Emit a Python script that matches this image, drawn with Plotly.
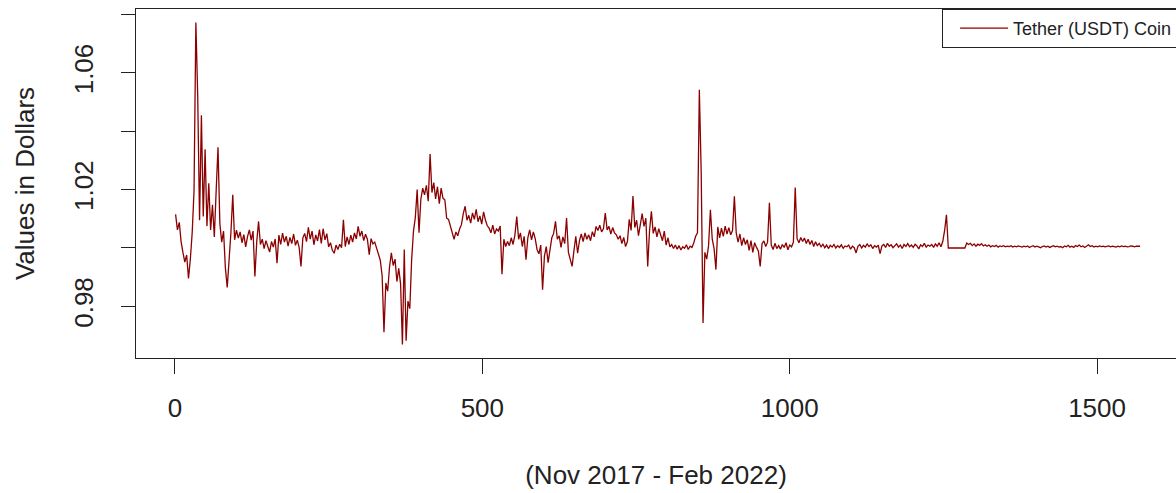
import plotly.graph_objects as go

# Day index (Nov 2017 - Feb 2022), sampled every 3rd day
day_index = list(range(1, 1571, 3))

# USDT closing price in dollars
usdt_price = [
    1.0115, 1.0062, 1.0088, 1.0021, 0.9984, 0.9952, 0.9976, 0.9896, 0.9962, 1.0052,
    1.0195, 1.0773, 1.0520, 1.0095, 1.0455, 1.0108, 1.0338, 1.0075, 1.0222, 1.0062,
    1.0148, 1.0038, 1.0196, 1.0345, 1.0085, 1.0020, 1.0058, 0.9932, 0.9865, 0.9948,
    1.0052, 1.0182, 1.0028, 1.0061, 1.0034, 1.0055, 1.0018, 1.0046, 1.0004, 1.0039,
    1.0062, 1.0027, 1.0058, 0.9902, 1.0021, 1.0091, 1.0012, 1.0030, 0.9998, 1.0025,
    1.0008, 0.9986, 1.0022, 1.0003, 1.0031, 0.9948, 1.0044, 1.0012, 1.0051, 1.0020,
    1.0040, 1.0006, 1.0036, 1.0015, 1.0048, 1.0009, 1.0027, 1.0002, 0.9937, 1.0035,
    1.0050, 1.0022, 1.0071, 1.0030, 1.0058, 1.0011, 1.0045, 1.0024, 1.0063, 1.0016,
    1.0066, 1.0028, 1.0049, 1.0004, 1.0018, 0.9992, 0.9982, 1.0010, 0.9995, 1.0013,
    1.0001, 1.0097, 1.0005, 1.0038, 1.0012, 1.0044, 1.0020, 1.0052, 1.0031, 1.0074,
    1.0040, 1.0058, 1.0025, 1.0047, 1.0030, 0.9977, 1.0032, 1.0014, 1.0020, 0.9996,
    0.9975, 0.9958, 0.9905, 0.9711, 0.9880, 0.9852, 0.9935, 0.9983, 0.9940, 0.9962,
    0.9885, 0.9930, 0.9878, 0.9669, 0.9995, 0.9682, 0.9818, 0.9792, 0.9960, 1.0058,
    1.0105, 1.0200, 1.0052, 1.0168, 1.0205, 1.0182, 1.0215, 1.0160, 1.0322, 1.0190,
    1.0224, 1.0168, 1.0210, 1.0152, 1.0205, 1.0170, 1.0165, 1.0102, 1.0098, 1.0074,
    1.0045, 1.0030, 1.0055, 1.0042, 1.0065, 1.0080, 1.0118, 1.0143, 1.0095, 1.0112,
    1.0085, 1.0120, 1.0098, 1.0132, 1.0090, 1.0110, 1.0082, 1.0124, 1.0096, 1.0076,
    1.0068, 1.0052, 1.0078, 1.0048, 1.0065, 1.0058, 1.0075, 0.9910, 1.0030, 1.0005,
    1.0022, 1.0008, 1.0035, 1.0012, 1.0045, 1.0108, 1.0030, 1.0052, 1.0005, 1.0040,
    0.9960, 1.0035, 1.0062, 1.0028, 1.0055, 1.0032, 0.9995, 0.9980, 1.0010, 0.9857,
    0.9972, 1.0005, 0.9950, 0.9988, 1.0035, 1.0050, 1.0091, 1.0030, 1.0042, 1.0002,
    1.0038, 1.0015, 1.0103, 0.9985, 0.9965, 0.9937, 0.9990, 1.0040, 0.9982, 1.0025,
    1.0048, 1.0022, 1.0052, 1.0030, 1.0045, 1.0025, 1.0056, 1.0038, 1.0074, 1.0060,
    1.0078, 1.0055, 1.0066, 1.0120, 1.0062, 1.0074, 1.0048, 1.0070, 1.0052, 1.0045,
    1.0030, 1.0042, 1.0015, 1.0036, 1.0005, 1.0022, 1.0098, 1.0060, 1.0178, 1.0070,
    1.0095, 1.0042, 1.0080, 1.0118, 1.0074, 1.0102, 0.9937, 1.0060, 1.0126, 1.0050,
    1.0072, 1.0038, 1.0066, 1.0048, 1.0025, 1.0058, 1.0010, 1.0035, 1.0004, 1.0012,
    0.9998, 1.0010, 0.9996, 1.0008, 0.9993, 1.0004, 0.9999, 1.0011, 0.9995, 1.0006,
    1.0002, 1.0018, 1.0040, 1.0052, 1.0542, 1.0263, 0.9743, 0.9985, 0.9962, 1.0008,
    1.0131, 1.0030, 0.9998, 0.9926, 1.0072, 1.0035, 1.0068, 1.0040, 1.0075, 1.0048,
    1.0070, 1.0045, 1.0060, 1.0177, 1.0052, 1.0020, 1.0048, 1.0008, 1.0035, 1.0012,
    1.0028, 0.9992, 1.0025, 0.9985, 1.0018, 1.0002, 0.9990, 0.9937, 1.0015, 1.0024,
    1.0005, 1.0020, 1.0155, 1.0010, 0.9995, 1.0016, 0.9998, 1.0008, 0.9996, 1.0012,
    1.0002, 1.0018, 0.9994, 1.0010, 1.0004, 1.0020, 1.0207, 1.0032, 1.0018, 1.0036,
    1.0022, 1.0034, 1.0015, 1.0030, 1.0012, 1.0026, 1.0005, 1.0021, 1.0008, 1.0016,
    1.0004, 1.0013, 1.0001, 1.0010, 0.9998, 1.0009, 1.0003, 1.0012, 1.0000, 1.0008,
    1.0002, 1.0011, 0.9999, 1.0007, 1.0004, 1.0010, 0.9996, 1.0006, 1.0001, 0.9983,
    1.0006, 1.0012, 1.0000, 1.0009, 1.0003, 1.0014, 1.0005, 1.0011, 0.9998, 1.0008,
    1.0003, 1.0010, 0.9981, 1.0007, 1.0012, 1.0002, 1.0016, 1.0006, 1.0011, 1.0001,
    1.0009, 1.0014, 1.0003, 1.0010, 0.9998, 1.0012, 1.0005, 1.0015, 1.0004, 1.0010,
    1.0002, 1.0013, 1.0007, 0.9997, 1.0011, 1.0005, 1.0016, 1.0003, 1.0010, 1.0006,
    1.0012, 1.0002, 1.0014, 1.0006, 1.0018, 1.0004, 1.0022, 1.0060, 1.0114, 1.0000,
    1.0000, 1.0000, 1.0000, 1.0000, 1.0000, 1.0000, 1.0000, 1.0000, 1.0000, 1.0017,
    1.0012, 1.0016, 1.0008, 1.0014, 1.0006, 1.0013, 1.0009, 1.0015, 1.0007, 1.0011,
    1.0006, 1.0010, 1.0004, 1.0008, 1.0005, 1.0009, 1.0003, 1.0007, 1.0005, 1.0008,
    1.0004, 1.0006, 1.0005, 1.0008, 1.0003, 1.0006, 1.0004, 1.0007, 1.0005, 1.0003,
    1.0006, 1.0004, 1.0007, 1.0002, 1.0005, 1.0008, 1.0003, 1.0006, 1.0004, 1.0001,
    1.0005, 1.0007, 1.0003, 1.0006, 1.0002, 1.0005, 1.0008, 1.0004, 1.0006, 1.0003,
    1.0005, 1.0001, 1.0007, 1.0004, 1.0009, 1.0003, 1.0006, 1.0002, 1.0008, 1.0005,
    1.0010, 1.0004, 1.0007, 1.0002, 1.0006, 1.0011, 1.0005, 1.0008, 1.0003, 1.0006,
    1.0004, 1.0007, 1.0005, 1.0006, 1.0004, 1.0005, 1.0007, 1.0004, 1.0006, 1.0005,
    1.0003, 1.0006, 1.0004, 1.0007, 1.0005, 1.0006, 1.0004, 1.0005, 1.0007, 1.0006,
    1.0004, 1.0006, 1.0005, 1.0006,
]

x_ticks = [0, 500, 1000, 1500]
y_ticks = [0.98, 1.00, 1.02, 1.04, 1.06, 1.08]
y_tick_labels = ["0.98", "", "1.02", "", "1.06", ""]

FONT = "Liberation Sans, Arial, sans-serif"
INK = "#222222"

fig = go.Figure()
fig.add_trace(go.Scatter(
    x=day_index, y=usdt_price, mode="lines",
    name="Tether (USDT) Coin",
    line=dict(color="#8B0000", width=1.3),
))

fig.update_layout(
    width=1176, height=493,
    margin=dict(l=136, r=0, t=9, b=135, autoexpand=False),
    paper_bgcolor="white", plot_bgcolor="white",
    font=dict(family=FONT, color=INK),
    showlegend=True,
    legend=dict(
        x=1.002, xanchor="right", y=1, yanchor="top",
        bgcolor="white", bordercolor=INK, borderwidth=1,
        font=dict(size=18, family=FONT, color=INK),
        itemwidth=48, indentation=12,
    ),
    xaxis=dict(
        range=[-63.4, 1628.4],
        tickvals=x_ticks, ticktext=[str(v) for v in x_ticks],
        ticks="outside", ticklen=15, tickwidth=1, tickcolor=INK,
        showline=True, linecolor=INK, linewidth=1, mirror=True,
        showgrid=False, zeroline=False,
        tickfont=dict(size=26, family=FONT, color=INK),
        ticklabelstandoff=12,
        title=dict(text="(Nov 2017 - Feb 2022)", standoff=43,
                   font=dict(size=26, family=FONT, color=INK)),
    ),
    yaxis=dict(
        range=[0.9623, 1.0819],
        tickvals=y_ticks, ticktext=y_tick_labels, tickangle=-90,
        ticks="outside", ticklen=14, tickwidth=1, tickcolor=INK,
        showline=True, linecolor=INK, linewidth=1, mirror=False,
        showgrid=False, zeroline=False,
        tickfont=dict(size=26, family=FONT, color=INK),
        ticklabelstandoff=18,
        title=dict(text="Values in Dollars", standoff=26,
                   font=dict(size=26, family=FONT, color=INK)),
    ),
)

fig.write_html("out.html")
